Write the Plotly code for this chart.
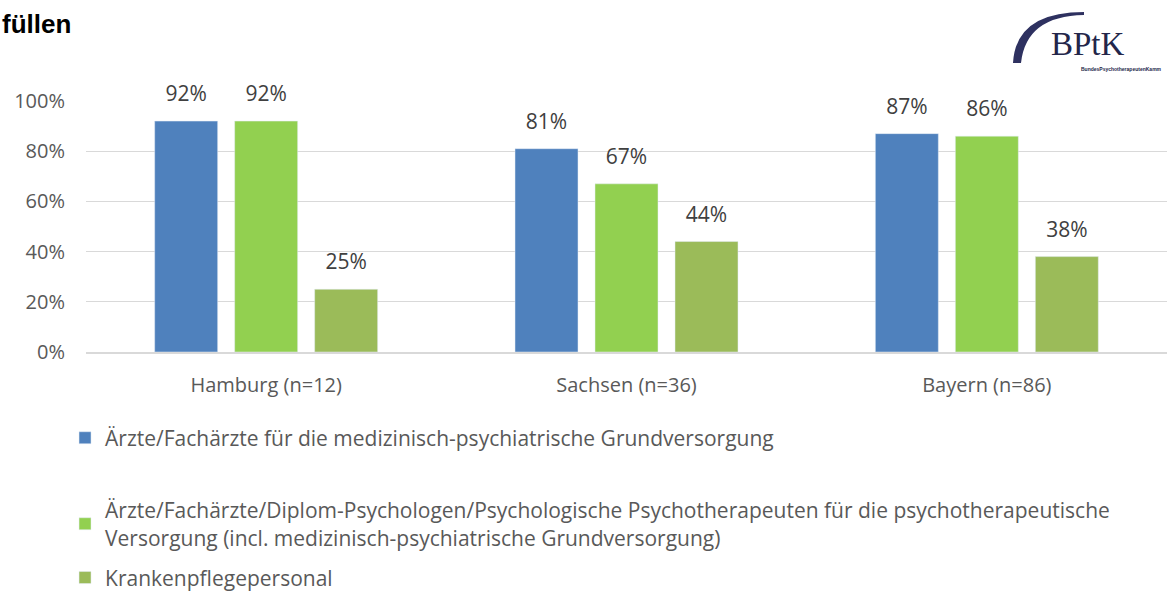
import plotly.graph_objects as go

regionen = ["Hamburg (n=12)", "Sachsen (n=36)", "Bayern (n=86)"]
aerzte = [0.92, 0.81, 0.87]
psycho = [0.92, 0.67, 0.86]
pflege = [0.25, 0.44, 0.38]
namen = [
    "Ärzte/Fachärzte für die medizinisch-psychiatrische Grundversorgung",
    "Ärzte/Fachärzte/Diplom-Psychologen/Psychologische Psychotherapeuten für die psychotherapeutische<br>Versorgung (incl. medizinisch-psychiatrische Grundversorgung)",
    "Krankenpflegepersonal",
]
farben = ["#4F81BD", "#92D050", "#9BBB59"]
yticks = [0, 0.2, 0.4, 0.6, 0.8, 1.0]
yticktext = ["0%", "20%", "40%", "60%", "80%", "100%"]

schrift = "Open Sans"
grau = "#595959"

fig = go.Figure()
legenden = ["legend", "legend2", "legend3"]
for werte, name, farbe, leg in zip([aerzte, psycho, pflege], namen, farben, legenden):
    fig.add_trace(go.Bar(x=regionen, y=werte, name=name, marker_color=farbe,
                         legend=leg, hoverinfo="skip"))
# Datenbeschriftungen als unsichtbare Punkte mit Text darueber
for werte in [aerzte, psycho, pflege]:
    fig.add_trace(go.Scatter(
        x=regionen, y=werte, mode="markers+text", showlegend=False,
        marker=dict(size=22, opacity=0), hoverinfo="skip",
        text=[f"{round(v * 100)}%" for v in werte], textposition="top center",
        textfont=dict(family=schrift, size=21, color="#404040"),
        cliponaxis=False,
    ))

def leg(y):
    return dict(x=-0.0194, y=y, xanchor="left", yanchor="middle", itemwidth=30,
                font=dict(family=schrift, size=21, color=grau),
                bgcolor="rgba(0,0,0,0)")

fig.update_layout(
    width=1167, height=596,
    margin=dict(l=86, r=0, t=101, b=244, autoexpand=False),
    plot_bgcolor="white", paper_bgcolor="white",
    barmode="group", bargap=0.334, bargroupgap=0.2125,
    scattermode="group", scattergap=0.334,
    showlegend=True,
    legend=leg(-0.343), legend2=leg(-0.685), legend3=leg(-0.900),
    font=dict(family=schrift, size=20, color=grau),
    xaxis=dict(range=[-0.5, 2.5], showline=True, linecolor="#D9D9D9", linewidth=1.5,
               ticks="", ticklabelstandoff=14,
               tickfont=dict(family=schrift, size=20, color=grau)),
    yaxis=dict(range=[0, 1], tickvals=yticks, ticktext=yticktext,
               showgrid=True, gridcolor="#D9D9D9", gridwidth=1, zeroline=False,
               ticks="", ticklabelstandoff=20,
               tickfont=dict(family=schrift, size=20, color=grau)),
)

def px(x, y):
    return (x - 86) / 1081, (352 - y) / 251

# Titelrest oben links
tx, ty = px(0, 24)
fig.add_annotation(text="<b>füllen</b>", xref="paper", yref="paper",
                   x=tx, y=ty, xanchor="left", yanchor="middle",
                   showarrow=False, font=dict(family="Liberation Sans", size=26, color="black"))

# BPtK Logo
punkte = [px(1013, 63), px(1016, 12), px(1084, 12), px(1084, 15), px(1026, 16), px(1021, 63)]
pfad = "M %f,%f Q %f,%f %f,%f L %f,%f Q %f,%f %f,%f Z" % tuple(v for p in punkte for v in p)
fig.add_shape(type="path", xref="paper", yref="paper", path=pfad,
              fillcolor="#2E3160", line=dict(width=0))
lx, ly = px(1088, 44)
fig.add_annotation(text="BPtK", xref="paper", yref="paper",
                   x=lx, y=ly, xanchor="center", yanchor="middle",
                   showarrow=False, font=dict(family="Liberation Serif", size=33, color="#23264A"))
sx, sy = px(1164, 69)
fig.add_annotation(text="<b>BundesPsychotherapeutenKamm</b>", xref="paper", yref="paper",
                   x=sx, y=sy, xanchor="right", yanchor="middle",
                   showarrow=False, font=dict(family="Liberation Sans", size=5, color="#23264A"))

# Seitenrand des Browsers entfernen, damit die Grafik bei 0,0 beginnt
fig.write_html("out.html", config={"displayModeBar": False},
               post_script="document.body.style.margin='0';")
